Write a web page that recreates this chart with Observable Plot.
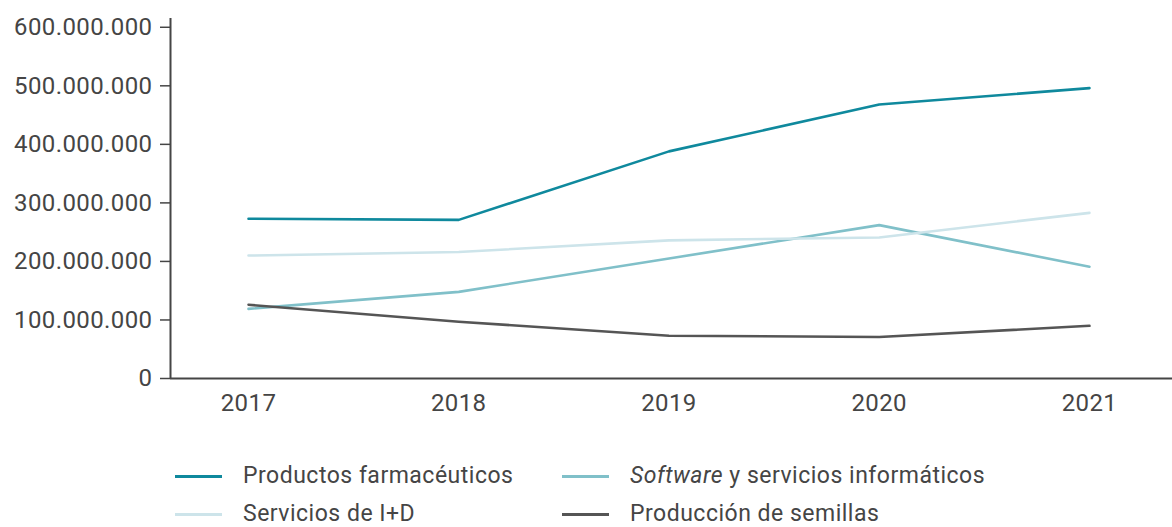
<!DOCTYPE html>
<html>
<head>
<meta charset="utf-8">
<script src="https://cdn.jsdelivr.net/npm/d3@7"></script>
<script src="https://cdn.jsdelivr.net/npm/@observablehq/plot@0.6"></script>
<style>
  body { margin: 0; background: #fff; font-family: Roboto, "Noto Sans", sans-serif; }
  #wrap { position: relative; width: 1172px; height: 527px; overflow: hidden; }
  .legend { position: absolute; left: 0; top: 0; width: 1172px; height: 527px; pointer-events: none; }
  .item { position: absolute; display: flex; align-items: center; font-size: 23px; line-height: 24px; letter-spacing: 0.5px; color: #454545; white-space: nowrap; }
  .sw { width: 47px; height: 3px; margin-right: 21px; }
  svg text { letter-spacing: 0.4px; }
</style>
</head>
<body>
<div id="wrap">
  <div id="chart"></div>
  <div class="legend" id="legend"></div>
</div>
<script>
const years = [2017, 2018, 2019, 2020, 2021];
const productosFarmaceuticos = [273e6, 271e6, 388e6, 468e6, 496e6];
const softwareServicios = [119e6, 148e6, 205e6, 262e6, 191e6];
const serviciosID = [210e6, 216e6, 236e6, 241e6, 283e6];
const produccionSemillas = [126e6, 97e6, 73e6, 71e6, 90e6];
const seriesNames = ["Productos farmacéuticos", "Software y servicios informáticos", "Servicios de I+D", "Producción de semillas"];
const seriesColors = ["#0f899d", "#80c0c9", "#cde4ea", "#555555"];
const yTicks = [0, 100e6, 200e6, 300e6, 400e6, 500e6, 600e6];

const seriesValues = [productosFarmaceuticos, softwareServicios, serviciosID, produccionSemillas];
const data = [];
seriesNames.forEach((name, i) => {
  years.forEach((yr, j) => data.push({series: name, year: yr, value: seriesValues[i][j]}));
});

const fmt = d3.formatLocale({decimal: ",", thousands: ".", grouping: [3], currency: ["", ""]}).format(",d");
const xMin = 2016.629, xMax = 2021.395, yMax = 615e6;

const chart = Plot.plot({
  width: 1172,
  height: 440,
  marginLeft: 170,
  marginRight: 0,
  marginTop: 18,
  marginBottom: 62,
  style: {fontFamily: "Roboto, sans-serif", fontSize: "24px", color: "#454545", background: "#fff"},
  x: {type: "linear", domain: [xMin, xMax]},
  y: {domain: [0, yMax]},
  color: {domain: seriesNames, range: seriesColors},
  marks: [
    Plot.axisX({ticks: years, tickFormat: d => String(d), tickSize: 0, tickPadding: 15, label: null, fontSize: 24}),
    Plot.axisY({ticks: yTicks, tickFormat: fmt, tickSize: 10, tickPadding: 8, label: null, fontSize: 24, strokeWidth: 1.5}),
    Plot.ruleX([xMin], {y1: 0, y2: yMax, stroke: "#454545", strokeWidth: 2}),
    Plot.ruleY([0], {stroke: "#454545", strokeWidth: 2}),
    Plot.line(data, {x: "year", y: "value", z: "series", stroke: "series", strokeWidth: 2.6})
  ]
});
document.getElementById("chart").appendChild(chart);

const legendPos = [
  {left: 175, top: 476},
  {left: 562, top: 476},
  {left: 175, top: 514},
  {left: 562, top: 514}
];
const legend = document.getElementById("legend");
seriesNames.forEach((name, i) => {
  const it = document.createElement("div");
  it.className = "item";
  it.style.left = legendPos[i].left + "px";
  it.style.top = (legendPos[i].top - 12) + "px";
  it.style.height = "24px";
  const sw = document.createElement("span");
  sw.className = "sw";
  sw.style.background = seriesColors[i];
  it.appendChild(sw);
  const label = document.createElement("span");
  if (name.startsWith("Software")) {
    const em = document.createElement("i");
    em.textContent = "Software";
    label.appendChild(em);
    label.appendChild(document.createTextNode(name.slice("Software".length)));
  } else {
    label.textContent = name;
  }
  it.appendChild(label);
  legend.appendChild(it);
});
</script>
</body>
</html>
